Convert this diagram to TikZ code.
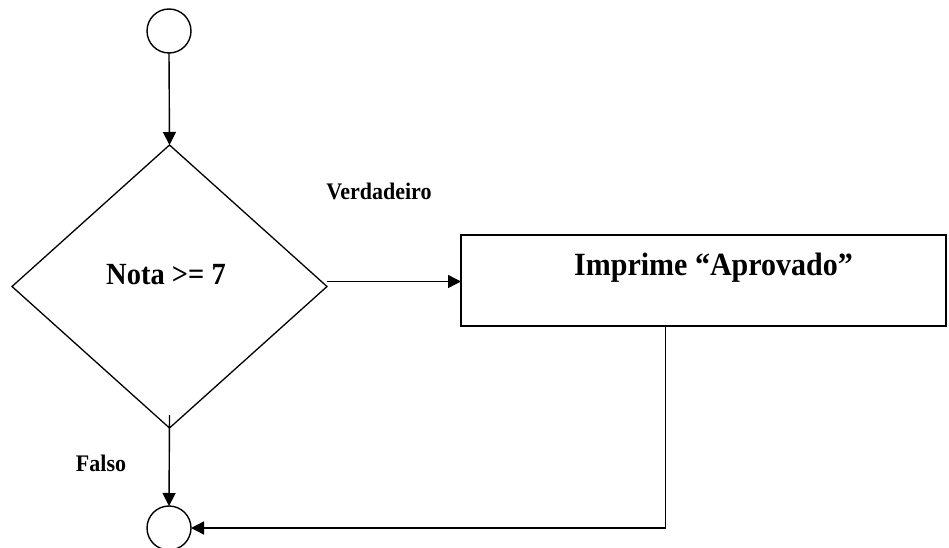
\documentclass[tikz,border=0pt]{standalone}
\usepackage{fontspec}
\setmainfont{Liberation Serif}
\usetikzlibrary{shapes.geometric,arrows.meta}

% Bold Times-like text, set a little taller than wide
\newcommand{\tallbf}[2]{\scalebox{1}[1.08]{\fontsize{#1}{#1}\selectfont\bfseries #2}}

\begin{document}
\begin{tikzpicture}[x=1pt,y=-1pt,
  line/.style={line width=1.4pt},
  arr/.style={line, -{Triangle[length=13pt,width=13pt]}},
  terminal/.style={circle, draw, line width=1.4pt, minimum size=44pt, inner sep=0pt, outer sep=0pt},
  decision/.style={diamond, draw, line width=1.3pt, inner sep=0pt, outer sep=0pt,
                   minimum width=315pt, minimum height=283pt},
  process/.style={rectangle, draw, line width=1.6pt, inner sep=0pt, outer sep=0pt,
                  minimum width=485pt, minimum height=91pt},
  label/.style={inner sep=0pt, anchor=base}
]
\useasboundingbox (0,0) rectangle (949,548);
\clip (0,0) rectangle (949,548);

% start and end terminals
\node[terminal] (start) at (169,31) {};
\node[terminal] (stop) at (169,528) {};

% decision and process shapes
\node[decision] (dec) at (169.5,286.5) {};
\node[label] (cond) at (166,284) {\tallbf{28.5}{Nota >= 7}};

\node[process] (box) at (703.5,280.5) {};
\node[label] (print) at (713.5,275) {\tallbf{30}{Imprime “Aprovado”}};

% branch labels
\node[label] (ltrue) at (379,199) {\tallbf{22}{Verdadeiro}};
\node[label] (lfalse) at (101,471) {\tallbf{22}{Falso}};

% connectors
\draw[arr] (start.south) -- (dec.north);
\draw[arr] ([yshift=5pt]dec.east) -- ([yshift=5pt]dec.east -| box.west);
\draw[arr] ([yshift=13pt]dec.south) -- (stop.north);
\draw[arr] ([xshift=-38pt]box.south) |- (stop.east);
\end{tikzpicture}
\end{document}
